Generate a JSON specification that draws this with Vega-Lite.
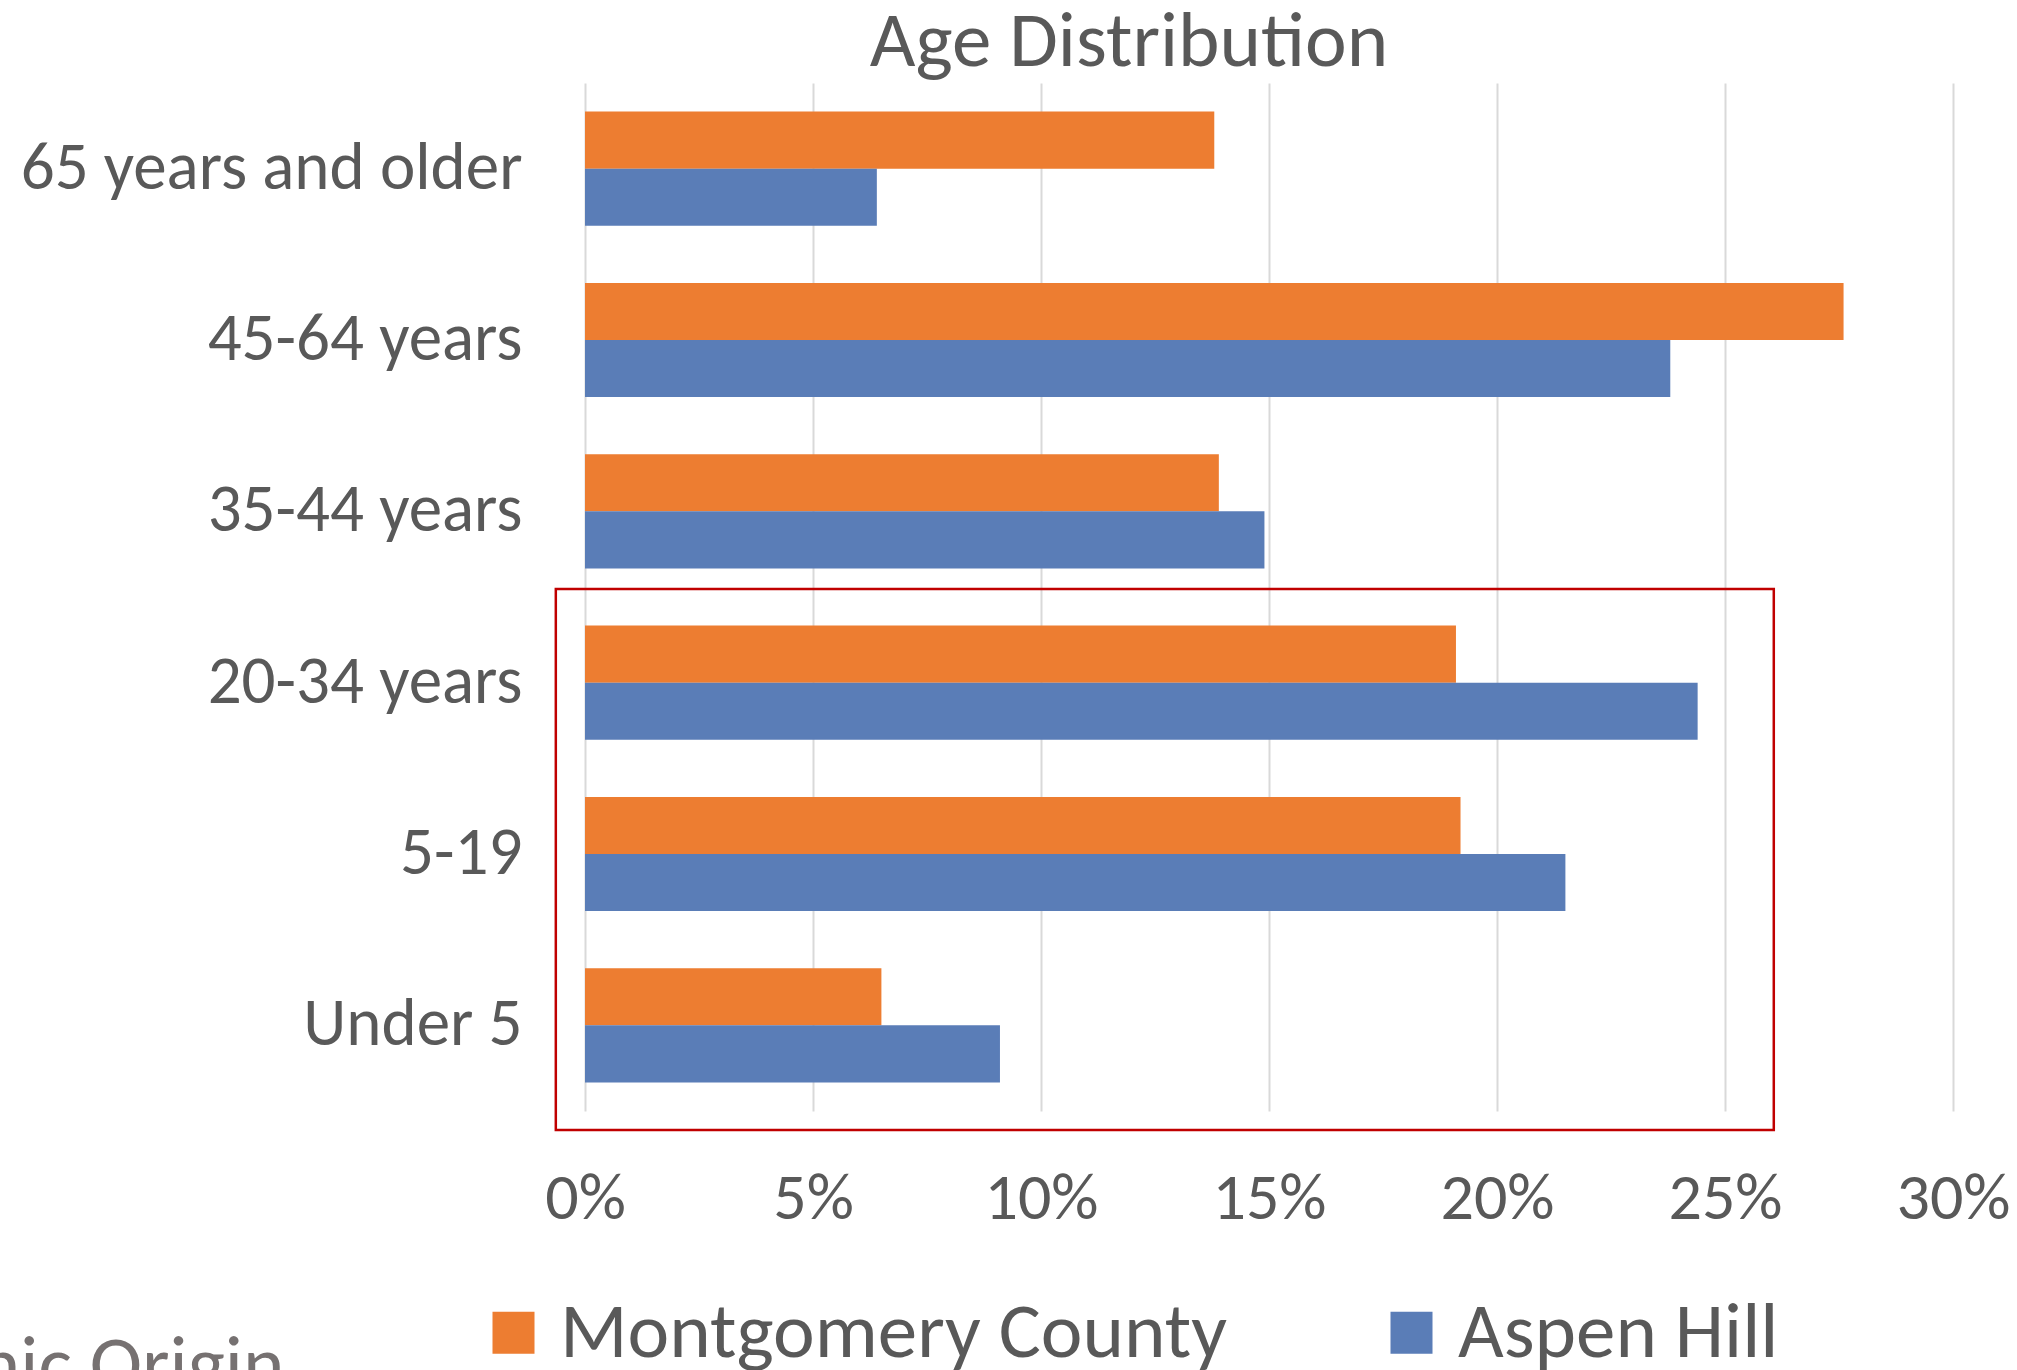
{
  "$schema": "https://vega.github.io/schema/vega-lite/v6.json",
  "autosize": "none",
  "width": 1368,
  "height": 1028,
  "padding": {"left": 585, "top": 83, "right": 64, "bottom": 259},
  "background": "white",
  "title": {
    "text": "Age Distribution",
    "fontSize": 79,
    "font": "Carlito, Lato, sans-serif",
    "fontWeight": "normal",
    "color": "#595959",
    "anchor": "middle",
    "dx": -140,
    "offset": 0
  },
  "config": {
    "view": {"stroke": null},
    "legend": {
      "orient": "none",
      "legendX": -111,
      "legendY": 1210,
      "direction": "horizontal",
      "symbolType": "square",
      "symbolSize": 1764,
      "symbolStrokeWidth": 0,
      "labelFontSize": 79,
      "labelFont": "Carlito, Lato, sans-serif",
      "labelColor": "#595959",
      "labelOffset": 7,
      "columnPadding": 145,
      "labelLimit": 2000,
      "padding": 0
    }
  },
  "datasets": {
    "ages": [
      {"age": "65 years and older", "series": "Montgomery County", "pct": 0.138},
      {"age": "65 years and older", "series": "Aspen Hill", "pct": 0.064},
      {"age": "45-64 years", "series": "Montgomery County", "pct": 0.276},
      {"age": "45-64 years", "series": "Aspen Hill", "pct": 0.238},
      {"age": "35-44 years", "series": "Montgomery County", "pct": 0.139},
      {"age": "35-44 years", "series": "Aspen Hill", "pct": 0.149},
      {"age": "20-34 years", "series": "Montgomery County", "pct": 0.191},
      {"age": "20-34 years", "series": "Aspen Hill", "pct": 0.244},
      {"age": "5-19", "series": "Montgomery County", "pct": 0.192},
      {"age": "5-19", "series": "Aspen Hill", "pct": 0.215},
      {"age": "Under 5", "series": "Montgomery County", "pct": 0.065},
      {"age": "Under 5", "series": "Aspen Hill", "pct": 0.091}
    ],
    "highlight": [
      {"x0": -0.0064, "x1": 0.2607, "y0": 2.953, "y1": 6.111}
    ]
  },
  "layer": [
    {
      "data": {"name": "ages"},
      "mark": {"type": "bar"},
      "encoding": {
        "y": {
          "field": "age",
          "type": "nominal",
          "sort": ["65 years and older", "45-64 years", "35-44 years", "20-34 years", "5-19", "Under 5"],
          "scale": {"paddingInner": 0.3333, "paddingOuter": 0.1667},
          "axis": {
            "title": null,
            "ticks": false,
            "tickSize": 0,
            "domain": false,
            "grid": false,
            "labelFontSize": 67,
            "labelFont": "Carlito, Lato, sans-serif",
            "labelColor": "#595959",
            "labelPadding": 63,
            "labelLimit": 1000
          }
        },
        "yOffset": {
          "field": "series",
          "type": "nominal",
          "sort": ["Montgomery County", "Aspen Hill"],
          "scale": {"paddingInner": 0, "paddingOuter": 0}
        },
        "x": {
          "field": "pct",
          "type": "quantitative",
          "scale": {"domain": [0, 0.3], "nice": false},
          "axis": {
            "values": [0, 0.05, 0.1, 0.15, 0.2, 0.25, 0.3],
            "format": ".0%",
            "grid": true,
            "gridColor": "#D9D9D9",
            "gridWidth": 2,
            "domain": false,
            "ticks": false,
            "tickSize": 0,
            "labelFlush": false,
            "labelFontSize": 66,
            "labelFont": "Carlito, Lato, sans-serif",
            "labelColor": "#595959",
            "labelBaseline": "alphabetic",
            "labelPadding": 107,
            "title": "Hispanic Origin",
            "titleFont": "Carlito, Lato, sans-serif",
            "titleFontSize": 79,
            "titleFontWeight": "normal",
            "titleColor": "#767171",
            "titleAlign": "right",
            "titleBaseline": "alphabetic",
            "titleAnchor": null,
            "titleX": -301,
            "titleY": 278
          }
        },
        "color": {
          "field": "series",
          "type": "nominal",
          "sort": ["Montgomery County", "Aspen Hill"],
          "scale": {"domain": ["Montgomery County", "Aspen Hill"], "range": ["#ED7D31", "#5A7DB7"]},
          "legend": {"title": null}
        }
      }
    },
    {
      "data": {"name": "highlight"},
      "mark": {"type": "rect", "fill": "transparent", "stroke": "#C00000", "strokeWidth": 2.5},
      "encoding": {
        "x": {"field": "x0", "type": "quantitative"},
        "x2": {"field": "x1"},
        "y": {
          "field": "y0",
          "type": "quantitative",
          "scale": {"domain": [0, 6], "reverse": true, "nice": false, "zero": false},
          "axis": null
        },
        "y2": {"field": "y1"}
      }
    }
  ],
  "resolve": {"scale": {"y": "independent"}, "axis": {"y": "independent"}}
}
